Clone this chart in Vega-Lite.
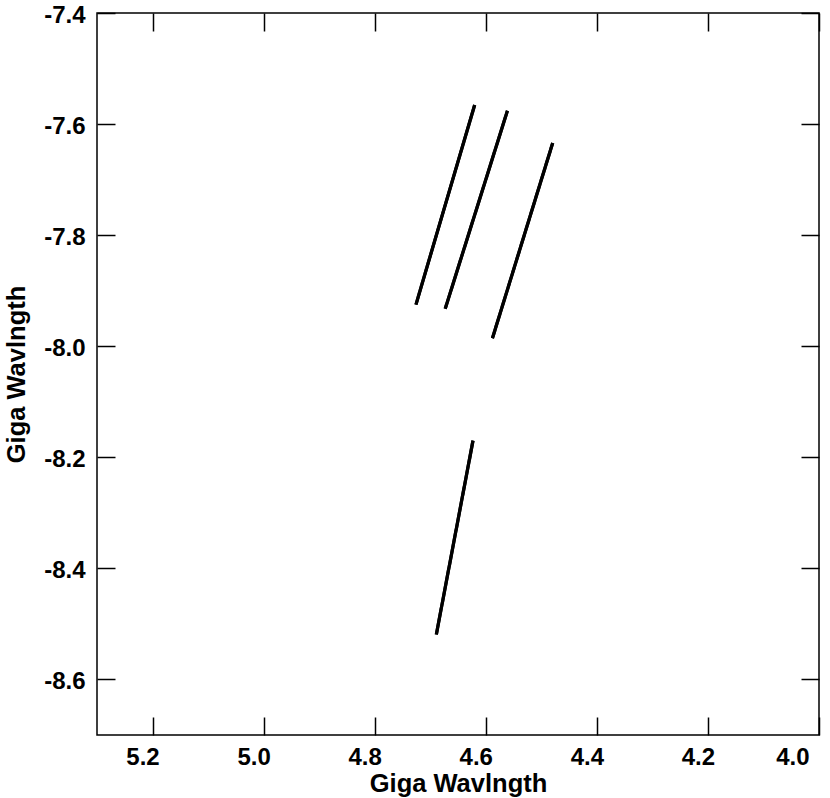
{
  "$schema": "https://vega.github.io/schema/vega-lite/v6.json",
  "autosize": {"type": "none"},
  "padding": {"left": 97, "top": 13, "right": 11, "bottom": 63},
  "width": 722,
  "height": 722,
  "background": "white",
  "config": {
    "view": {"stroke": "black", "strokeWidth": 1.5},
    "font": "Liberation Sans",
    "axis": {
      "labelFont": "Liberation Sans",
      "labelFontWeight": "bold",
      "labelFontSize": 24,
      "labelColor": "black",
      "titleFont": "Liberation Sans",
      "titleFontWeight": "bold",
      "titleFontSize": 25.5,
      "titleColor": "black",
      "tickColor": "black",
      "tickWidth": 1.5,
      "tickSize": -18,
      "domain": false,
      "grid": false
    }
  },
  "data": {
    "values": [
      {"seg": 1, "x": 4.7257, "y": -7.925},
      {"seg": 1, "x": 4.620, "y": -7.5656},
      {"seg": 2, "x": 4.673, "y": -7.9324},
      {"seg": 2, "x": 4.561, "y": -7.5759},
      {"seg": 3, "x": 4.588, "y": -7.9857},
      {"seg": 3, "x": 4.4795, "y": -7.6339},
      {"seg": 4, "x": 4.689, "y": -8.519},
      {"seg": 4, "x": 4.623, "y": -8.170}
    ]
  },
  "layer": [
    {
      "mark": {"type": "line", "color": "black", "strokeWidth": 3.2, "strokeCap": "butt"},
      "encoding": {
        "x": {"field": "x", "type": "quantitative",
              "scale": {"domain": [4.0, 5.3], "reverse": true, "nice": false, "zero": false},
              "axis": {"orient": "bottom", "values": [4.0, 4.2, 4.4, 4.6, 4.8, 5.0, 5.2],
                       "labelExpr": "format(datum.value, '.1f')",
                       "labelOffset": -10,
                       "labelPadding": 28, "title": "Giga Wavlngth", "titlePadding": 2}},
        "y": {"field": "y", "type": "quantitative",
              "scale": {"domain": [-8.7, -7.4], "nice": false, "zero": false},
              "axis": {"orient": "left", "values": [-8.6, -8.4, -8.2, -8.0, -7.8, -7.6, -7.4],
                       "labelExpr": "'-' + format(-datum.value, '.1f')",
                       "labelPadding": 30, "labelOffset": 2, "title": "Giga Wavlngth", "titlePadding": 14}},
        "detail": {"field": "seg", "type": "nominal"},
        "order": {"field": "y", "type": "quantitative"}
      }
    },
    {
      "mark": {"type": "line", "color": "black", "strokeWidth": 3.2, "strokeCap": "butt"},
      "encoding": {
        "x": {"field": "x", "type": "quantitative",
              "axis": {"orient": "top", "values": [4.0, 4.2, 4.4, 4.6, 4.8, 5.0, 5.2], "labels": false, "title": null}},
        "y": {"field": "y", "type": "quantitative",
              "axis": {"orient": "right", "values": [-8.6, -8.4, -8.2, -8.0, -7.8, -7.6, -7.4], "labels": false, "title": null}},
        "detail": {"field": "seg", "type": "nominal"},
        "order": {"field": "y", "type": "quantitative"}
      }
    }
  ],
  "resolve": {"axis": {"x": "independent", "y": "independent"}}
}
